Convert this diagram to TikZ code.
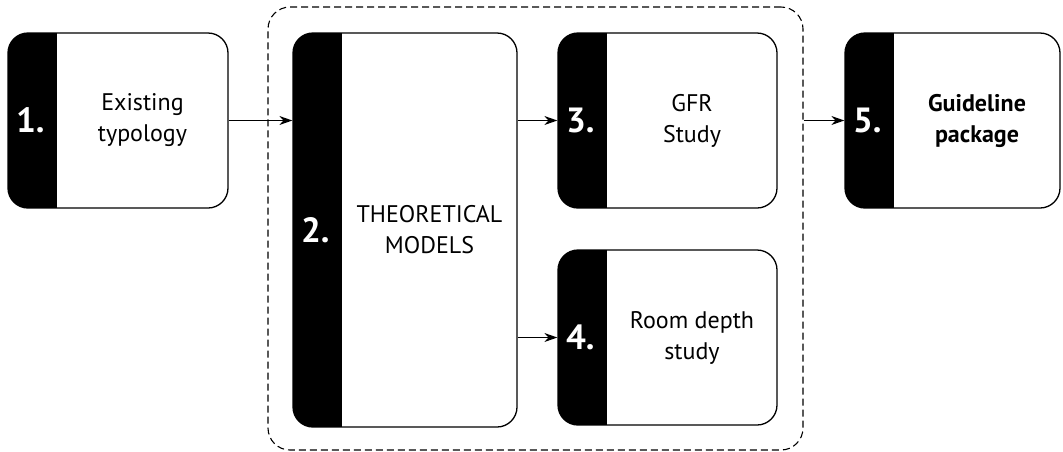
\documentclass[tikz,border=0pt]{standalone}
\usepackage{fontspec}
\setmainfont{PT Sans}
\usetikzlibrary{arrows.meta,calc}
\tikzset{
  stagebox/.style={draw, line width=1.3pt, rounded corners=20pt, inner sep=0pt,
    path picture={\fill[black, sharp corners] (path picture bounding box.north west) rectangle ([xshift=49pt]path picture bounding box.south west);}},
  numtxt/.style={text=white, font=\fontsize{35}{35}\selectfont\bfseries, inner sep=0pt},
  boxtxt/.style={align=center, font=\fontsize{24}{31}\selectfont, inner sep=0pt},
  flow/.style={line width=1.3pt, -{Stealth[length=13pt,width=9pt]}},
  grpbox/.style={draw, dashed, dash pattern=on 7pt off 4pt, line width=1.1pt, rounded corners=22pt, inner sep=0pt}
}
\begin{document}
\begin{tikzpicture}[x=1pt,y=-1pt]
\useasboundingbox (0,0) rectangle (1063,451);
\node[grpbox, minimum width=535pt, minimum height=443pt] (grp) at (535.5,228.5) {};
\node[stagebox, minimum width=220pt, minimum height=175pt] (b1) at (118,120.5) {};
\node[stagebox, minimum width=224pt, minimum height=394pt] (b2) at (405,230) {};
\node[stagebox, minimum width=219pt, minimum height=175pt] (b3) at (667.5,120.5) {};
\node[stagebox, minimum width=219pt, minimum height=175pt] (b4) at (667.5,337.5) {};
\node[stagebox, minimum width=215pt, minimum height=175pt] (b5) at (952.5,120.5) {};
\node[numtxt] (n1) at ([xshift=23pt]b1.west) {1.};
\node[numtxt] (n2) at ([xshift=23pt]b2.west) {2.};
\node[numtxt] (n3) at ([xshift=23pt]b3.west) {3.};
\node[numtxt] (n4) at ([xshift=23pt]b4.west) {4.};
\node[numtxt] (n5) at ([xshift=23pt]b5.west) {5.};
\node[boxtxt] (t1) at ($(b1.center)+(24.5pt,0)$) {Existing\\typology};
\node[boxtxt] (t2) at ($(b2.center)+(24.5pt,0)$) {THEORETICAL\\MODELS};
\node[boxtxt] (t3) at ($(b3.center)+(24.5pt,0)$) {GFR\\Study};
\node[boxtxt] (t4) at ($(b4.center)+(24.5pt,0)$) {Room depth\\study};
\node[boxtxt, font=\fontsize{24}{31}\selectfont\bfseries] (t5) at ($(b5.center)+(24.5pt,0)$) {Guideline\\package};
\draw[flow] (b1.east) -- (b2.west |- b1.east);
\draw[flow] (b2.east |- b3.west) -- (b3.west);
\draw[flow] (b2.east |- b4.west) -- (b4.west);
\draw[flow] (grp.east |- b5.west) -- (b5.west);
\end{tikzpicture}
\end{document}
